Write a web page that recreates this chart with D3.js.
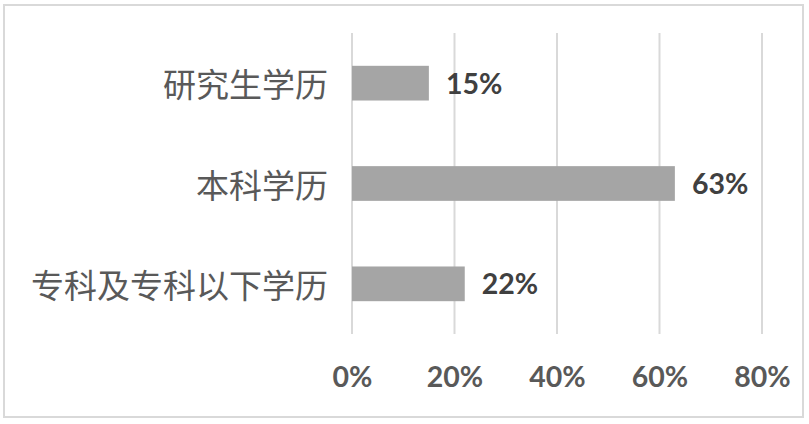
<!DOCTYPE html>
<html><head><meta charset="utf-8">
<script src="https://cdn.jsdelivr.net/npm/d3@7"></script>
<style>body{margin:0;background:#fff;}svg{display:block;}</style>
</head><body>
<svg id="c" width="809" height="424"></svg>
<script>
const categories = ["研究生学历", "本科学历", "专科及专科以下学历"];
const values = [0.15, 0.63, 0.22];
const tickValues = [0, 0.2, 0.4, 0.6, 0.8];

const svg = d3.select("#c");
svg.append("rect").attr("x", 4).attr("y", 5).attr("width", 799).attr("height", 412)
  .attr("fill", "#fff").attr("stroke", "#d9d9d9").attr("stroke-width", 2);

const x = d3.scaleLinear().domain([0, 0.8]).range([352, 762]);
const y = d3.scaleBand().domain(categories).range([33, 334]).paddingInner(0.654).paddingOuter(0.327);

// gridlines
svg.append("g").selectAll("line").data(tickValues).join("line")
  .attr("x1", d => x(d)).attr("x2", d => x(d)).attr("y1", 33).attr("y2", 334)
  .attr("stroke", "#d9d9d9").attr("stroke-width", 2);

// bars
svg.append("g").selectAll("rect").data(values).join("rect")
  .attr("x", x(0)).attr("y", (d, i) => y(categories[i]))
  .attr("width", d => x(d) - x(0)).attr("height", y.bandwidth())
  .attr("fill", "#a5a5a5");

// data labels
svg.append("g").selectAll("text").data(values).join("text")
  .attr("x", d => x(d) + 17).attr("y", (d, i) => y(categories[i]) + y.bandwidth() / 2 + 10.5)
  .attr("font-family", "Lato, 'Open Sans', sans-serif").attr("font-weight", "bold")
  .attr("font-size", 28.5).attr("fill", "#404040")
  .text(d => Math.round(d * 100) + "%");

// category labels
svg.append("g").selectAll("text").data(categories).join("text")
  .attr("x", 328).attr("y", d => y(d) + y.bandwidth() / 2)
  .attr("text-anchor", "end").attr("dominant-baseline", "central")
  .attr("font-family", "'Noto Sans CJK SC', sans-serif").attr("font-size", 33)
  .attr("fill", "#595959")
  .text(d => d);

// x axis tick labels
const axis = d3.axisBottom(x).tickValues(tickValues).tickFormat(d3.format(".0%")).tickSize(0);
const ax = svg.append("g").attr("transform", "translate(0,366)").call(axis);
ax.select(".domain").remove();
ax.selectAll("text").attr("dy", 0).attr("y", 21)
  .attr("font-family", "Lato, 'Open Sans', sans-serif").attr("font-weight", "bold")
  .attr("font-size", 28.5).attr("fill", "#595959");
</script>
</body></html>
